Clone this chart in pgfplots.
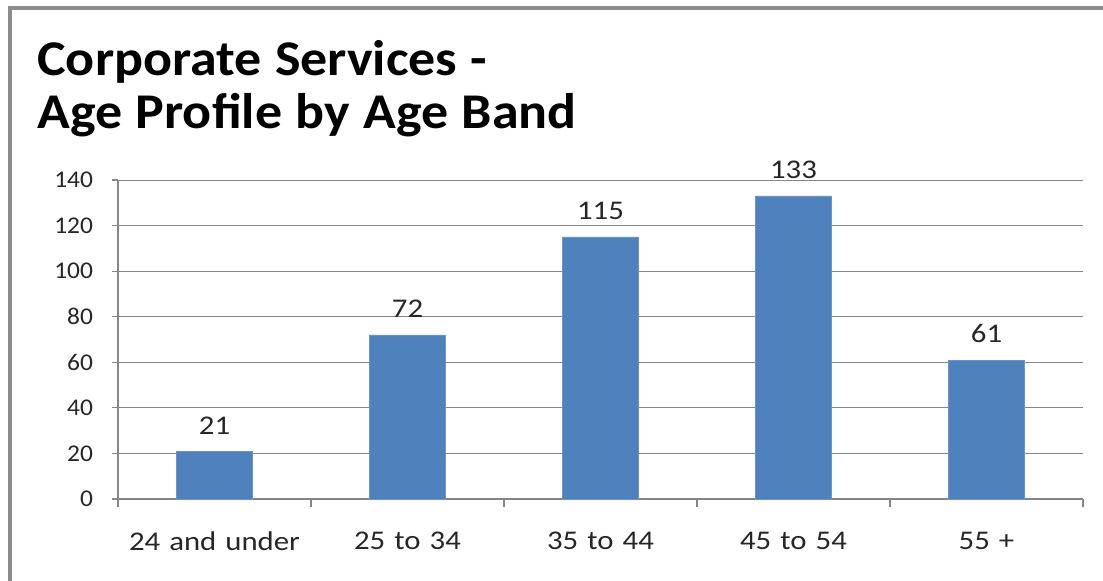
\documentclass[border=0pt]{standalone}
\usepackage{pgfplots}
\pgfplotsset{compat=1.18}
\usepackage{fontspec}
\setmainfont{Carlito}
\newfontfamily\lblfont[FakeStretch=1.14, WordSpace=1.3]{Carlito}
\newfontfamily\ylblfont[FakeStretch=1.06]{Carlito}
\newfontfamily\titlefont[FakeStretch=1.08, WordSpace=1.1]{Carlito}
\definecolor{barblue}{HTML}{4F81BD}
\definecolor{gridgray}{HTML}{868686}
\definecolor{framegray}{HTML}{8C8C8C}
\begin{document}
\begin{tikzpicture}
\useasboundingbox (0,0) rectangle (551.5pt,290pt);
\draw[framegray, line width=1.6pt] (5pt,-1pt) -- (5pt,286pt) -- (552pt,286pt);
\node[anchor=base west, font=\titlefont\bfseries\fontsize{25}{26.5}\selectfont, inner sep=0pt] at (18.5pt,252.5pt) {Corporate Services -};
\node[anchor=base west, font=\titlefont\bfseries\fontsize{25}{26.5}\selectfont, inner sep=0pt] at (18.5pt,226pt) {Age Profile by Age Band};
\begin{axis}[
  at={(59pt,40.5pt)}, anchor=south west,
  scale only axis, width=482.5pt, height=159.5pt,
  xmin=-0.5, xmax=4.5, ymin=0, ymax=140,
  ytick={0,20,...,140},
  xtick={0,1,2,3,4},
  xticklabels={24 and under,25 to 34,35 to 44,45 to 54,55 +},
  minor xtick={-0.5,0.5,1.5,2.5,3.5,4.5},
  major x tick style={draw=none},
  minor tick length=4pt,
  major tick length=3pt,
  tick align=outside,
  axis x line*=bottom, axis y line*=left,
  axis line style={gridgray, line width=0.6pt},
  every tick/.style={gridgray, line width=0.6pt},
  ymajorgrids, grid style={gridgray, line width=0.5pt},
  /pgf/number format/assume math mode=true,
  yticklabel style={font=\ylblfont\fontsize{12}{14}\selectfont, text=black!85, xshift=-6pt},
  xticklabel style={font=\lblfont\fontsize{13.5}{15}\selectfont, text=black!85, yshift=-10pt},
  ybar, bar width=0.39,
  nodes near coords,
  every node near coord/.append style={font=\lblfont\fontsize{13.5}{15}\selectfont, text=black!85, yshift=5pt},
]
\addplot[fill=barblue, draw=barblue!85!white] coordinates {(0,21) (1,72) (2,115) (3,133) (4,61)};
\end{axis}
\end{tikzpicture}
\end{document}
